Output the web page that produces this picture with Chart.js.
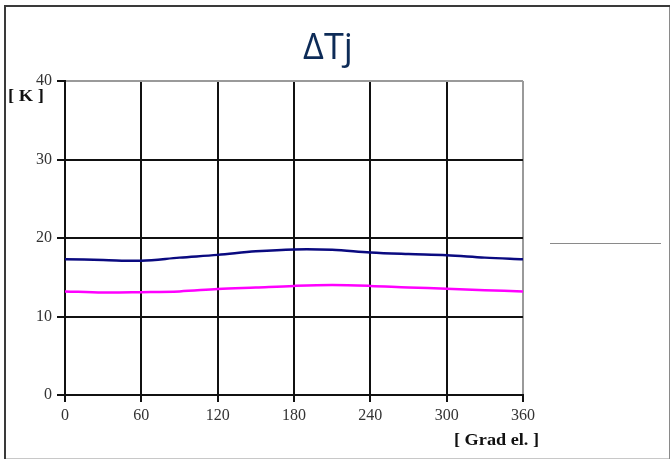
<!DOCTYPE html>
<html>
<head>
<meta charset="utf-8">
<script src="https://cdn.jsdelivr.net/npm/chart.js@4/dist/chart.umd.min.js"></script>
<style>
  html, body { margin: 0; padding: 0; background: #fff; }
  #wrap { position: relative; width: 671px; height: 460px; }
</style>
</head>
<body>
<div id="wrap"><canvas id="c" width="671" height="460"></canvas></div>
<script>
// Electrical angle (degrees) where the curves are sampled
const angles = [0, 30, 60, 90, 120, 150, 180, 210, 240, 270, 300, 330, 360];
// Junction temperature swing, upper curve [K]
const dTjUpper = [17.3, 17.2, 17.1, 17.5, 17.85, 18.3, 18.55, 18.5, 18.15, 17.95, 17.8, 17.5, 17.3];
// Junction temperature swing, lower curve [K]
const dTjLower = [13.2, 13.05, 13.1, 13.2, 13.5, 13.7, 13.9, 14.0, 13.9, 13.7, 13.55, 13.35, 13.2];
// Axis ticks
const xTicks = [0, 60, 120, 180, 240, 300, 360];
const yTicks = [0, 10, 20, 30, 40];

const chartTitle = 'ΔTj';
const yUnit = '[ K ]';
const xUnit = '[ Grad el. ]';

const toPoints = (ys) => angles.map((a, i) => ({ x: a, y: ys[i] }));

// Page frame, title, unit labels and the short rule on the right
const decorations = {
  id: 'decorations',
  beforeDraw(chart) {
    const { ctx, width, height } = chart;
    ctx.save();
    ctx.fillStyle = '#fff';
    ctx.fillRect(0, 0, width, height);
    ctx.restore();
  },
  afterDraw(chart) {
    const { ctx, chartArea } = chart;
    ctx.save();
    // frame
    ctx.lineWidth = 1;
    ctx.strokeStyle = '#c8c8c8';
    ctx.beginPath(); ctx.moveTo(4, 458.5); ctx.lineTo(670, 458.5); ctx.stroke();
    ctx.strokeStyle = '#8a8a8a';
    ctx.beginPath(); ctx.moveTo(669.5, 5); ctx.lineTo(669.5, 459); ctx.stroke();
    ctx.lineWidth = 2;
    ctx.strokeStyle = '#3a3a3a';
    ctx.beginPath(); ctx.moveTo(4, 6); ctx.lineTo(670, 6); ctx.stroke();
    ctx.beginPath(); ctx.moveTo(5, 5); ctx.lineTo(5, 459); ctx.stroke();

    // title
    ctx.fillStyle = '#0d2b57';
    ctx.font = '36px "Open Sans"';
    ctx.textAlign = 'center';
    ctx.textBaseline = 'alphabetic';
    ctx.fillText(chartTitle, 328, 59);

    // unit labels
    const fitText = (txt, x, y, w) => {
      const m = ctx.measureText(txt).width;
      ctx.save();
      ctx.translate(x, y);
      ctx.scale(w / m, 1);
      ctx.textAlign = 'left';
      ctx.fillText(txt, 0, 0);
      ctx.restore();
    };
    ctx.fillStyle = '#111';
    ctx.font = 'bold 16px "Liberation Serif"';
    ctx.textBaseline = 'middle';
    fitText(yUnit, 8, chartArea.top + 16, 36);
    fitText(xUnit, 454, 441, 85);

    // short rule to the right of the plot
    ctx.lineWidth = 1;
    ctx.strokeStyle = '#8a8a8a';
    const yr = Math.round(chart.scales.y.getPixelForValue(19.3)) + 0.5;
    ctx.beginPath();
    ctx.moveTo(chartArea.right + 27, yr);
    ctx.lineTo(chartArea.right + 138, yr);
    ctx.stroke();
    ctx.restore();
  }
};

new Chart(document.getElementById('c'), {
  type: 'line',
  data: {
    datasets: [
      {
        label: 'ΔTj 1',
        data: toPoints(dTjUpper),
        borderColor: '#0a0a80',
        borderWidth: 2.5,
        pointRadius: 0,
        tension: 0.35,
        fill: false
      },
      {
        label: 'ΔTj 2',
        data: toPoints(dTjLower),
        borderColor: '#ff00ff',
        borderWidth: 2.5,
        pointRadius: 0,
        tension: 0.35,
        fill: false
      }
    ]
  },
  options: {
    responsive: false,
    animation: false,
    devicePixelRatio: 1,
    layout: { padding: { left: 10, top: 81, right: 148, bottom: 40 } },
    plugins: {
      legend: { display: false },
      title: { display: false },
      tooltip: { enabled: false }
    },
    scales: {
      x: {
        type: 'linear',
        min: 0,
        max: 360,
        afterBuildTicks(scale) { scale.ticks = xTicks.map(v => ({ value: v })); },
        afterFit(scale) { scale.height = 25; },
        ticks: {
          color: '#333',
          padding: 4,
          maxRotation: 0,
          autoSkip: false,
          font: { family: 'Liberation Serif', size: 16 }
        },
        grid: {
          lineWidth: 2,
          tickLength: 7,
          tickColor: '#111',
          color: (ctx) => (ctx.tick && ctx.tick.value === 360 ? '#9a9a9a' : '#111')
        },
        border: { display: true, color: '#111', width: 2 }
      },
      y: {
        type: 'linear',
        min: 0,
        max: 40,
        afterBuildTicks(scale) { scale.ticks = yTicks.map(v => ({ value: v })); },
        afterFit(scale) { scale.width = 55; },
        ticks: {
          color: '#333',
          padding: 5,
          autoSkip: false,
          font: { family: 'Liberation Serif', size: 16 }
        },
        grid: {
          lineWidth: 2,
          tickLength: 8,
          tickColor: '#111',
          color: (ctx) => (ctx.tick && ctx.tick.value === 40 ? '#9a9a9a' : '#111')
        },
        border: { display: true, color: '#111', width: 2 }
      }
    }
  },
  plugins: [decorations]
});
</script>
</body>
</html>
